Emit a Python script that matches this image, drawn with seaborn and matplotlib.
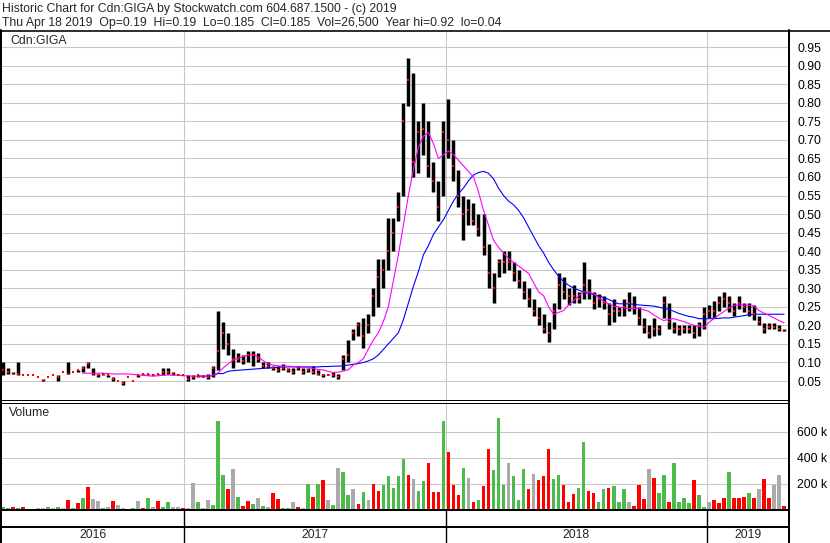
import numpy as np
import pandas as pd
import matplotlib
matplotlib.use("Agg")
import matplotlib.pyplot as plt
from matplotlib.lines import Line2D
import seaborn as sns

W, H = 830, 543

# weekly bars, Apr 2016 - Apr 2019
weeks = pd.date_range("2016-04-22", periods=157, freq="7D")

high = [
    0.10, 0.085, 0.075, 0.10, 0.065, 0.065, 0.065, 0.06, 0.055, 0.06,
    0.065, 0.065, 0.075, 0.10, 0.075, 0.08, 0.09, 0.10, 0.085, 0.07,
    0.07, 0.065, 0.06, 0.05, 0.05, 0.06, 0.05, 0.065, 0.07, 0.07,
    0.07, 0.07, 0.085, 0.085, 0.075, 0.07, 0.065, 0.065, 0.065, 0.065,
    0.065, 0.07, 0.09, 0.24, 0.21, 0.18, 0.135, 0.125, 0.12, 0.13,
    0.13, 0.125, 0.10, 0.10, 0.09, 0.09, 0.095, 0.085, 0.085, 0.09,
    0.085, 0.085, 0.09, 0.08, 0.07, 0.07, 0.075, 0.07, 0.12, 0.16,
    0.19, 0.21, 0.22, 0.23, 0.30, 0.38, 0.38, 0.49, 0.49, 0.56,
    0.80, 0.92, 0.88, 0.75, 0.80, 0.75, 0.64, 0.59, 0.75, 0.81,
    0.70, 0.62, 0.55, 0.54, 0.53, 0.50, 0.50, 0.42, 0.34, 0.38,
    0.40, 0.40, 0.37, 0.35, 0.32, 0.30, 0.27, 0.25, 0.23, 0.21,
    0.26, 0.34, 0.33, 0.30, 0.31, 0.29, 0.37, 0.325, 0.29, 0.285,
    0.28, 0.26, 0.27, 0.25, 0.27, 0.29, 0.28, 0.25, 0.22, 0.20,
    0.22, 0.20, 0.28, 0.26, 0.21, 0.20, 0.20, 0.20, 0.20, 0.21,
    0.25, 0.255, 0.265, 0.28, 0.29, 0.28, 0.26, 0.28, 0.26, 0.26,
    0.255, 0.225, 0.205, 0.205, 0.205, 0.20, 0.19]

low = [
    0.065, 0.07, 0.07, 0.065, 0.065, 0.065, 0.065, 0.06, 0.05, 0.06,
    0.065, 0.05, 0.075, 0.07, 0.075, 0.075, 0.075, 0.085, 0.065, 0.06,
    0.065, 0.06, 0.05, 0.05, 0.04, 0.06, 0.05, 0.06, 0.065, 0.065,
    0.065, 0.065, 0.065, 0.07, 0.065, 0.065, 0.065, 0.05, 0.055, 0.06,
    0.06, 0.055, 0.06, 0.08, 0.135, 0.12, 0.085, 0.10, 0.095, 0.10,
    0.09, 0.10, 0.085, 0.085, 0.08, 0.075, 0.08, 0.075, 0.07, 0.08,
    0.07, 0.075, 0.07, 0.065, 0.06, 0.065, 0.06, 0.055, 0.08, 0.10,
    0.16, 0.17, 0.14, 0.18, 0.225, 0.25, 0.30, 0.35, 0.40, 0.48,
    0.55, 0.79, 0.60, 0.61, 0.66, 0.60, 0.56, 0.48, 0.55, 0.65,
    0.59, 0.52, 0.43, 0.47, 0.47, 0.44, 0.39, 0.30, 0.26, 0.33,
    0.34, 0.35, 0.32, 0.30, 0.27, 0.25, 0.225, 0.20, 0.18, 0.155,
    0.19, 0.245, 0.27, 0.255, 0.26, 0.26, 0.27, 0.27, 0.245, 0.25,
    0.245, 0.20, 0.21, 0.225, 0.225, 0.24, 0.23, 0.20, 0.18, 0.165,
    0.17, 0.175, 0.22, 0.19, 0.18, 0.175, 0.18, 0.18, 0.165, 0.17,
    0.19, 0.22, 0.22, 0.24, 0.25, 0.235, 0.225, 0.245, 0.235, 0.225,
    0.215, 0.20, 0.18, 0.19, 0.19, 0.185, 0.185]

close = [
    0.08, 0.075, 0.07, 0.07, 0.065, 0.065, 0.065, 0.06, 0.05, 0.06,
    0.065, 0.06, 0.075, 0.07, 0.075, 0.08, 0.085, 0.095, 0.07, 0.065,
    0.07, 0.065, 0.055, 0.05, 0.045, 0.06, 0.05, 0.065, 0.07, 0.07,
    0.065, 0.068, 0.075, 0.075, 0.07, 0.065, 0.065, 0.055, 0.06, 0.065,
    0.06, 0.06, 0.085, 0.13, 0.18, 0.15, 0.11, 0.11, 0.105, 0.12,
    0.12, 0.11, 0.09, 0.09, 0.085, 0.08, 0.085, 0.08, 0.075, 0.085,
    0.075, 0.08, 0.075, 0.07, 0.065, 0.065, 0.065, 0.06, 0.11, 0.12,
    0.18, 0.20, 0.17, 0.20, 0.28, 0.33, 0.35, 0.40, 0.45, 0.52,
    0.75, 0.86, 0.64, 0.72, 0.73, 0.63, 0.59, 0.52, 0.72, 0.70,
    0.63, 0.55, 0.50, 0.51, 0.48, 0.46, 0.41, 0.34, 0.30, 0.37,
    0.37, 0.37, 0.34, 0.32, 0.29, 0.27, 0.24, 0.22, 0.19, 0.18,
    0.24, 0.31, 0.29, 0.28, 0.28, 0.27, 0.31, 0.29, 0.26, 0.27,
    0.26, 0.23, 0.24, 0.24, 0.25, 0.26, 0.25, 0.22, 0.195, 0.18,
    0.19, 0.19, 0.26, 0.21, 0.19, 0.19, 0.19, 0.19, 0.18, 0.20,
    0.23, 0.24, 0.24, 0.26, 0.27, 0.26, 0.24, 0.26, 0.25, 0.24,
    0.23, 0.21, 0.19, 0.195, 0.195, 0.19, 0.185]

# short moving average (magenta)
ma_short = [np.nan] * 16 + [
    0.071, 0.071, 0.071, 0.071,
    0.071, 0.070, 0.069, 0.069, 0.069, 0.069, 0.068, 0.066, 0.066, 0.064,
    0.063, 0.064, 0.066, 0.066, 0.066, 0.066, 0.064, 0.064, 0.063, 0.063,
    0.063, 0.063, 0.066, 0.072, 0.085, 0.096, 0.106, 0.112, 0.116, 0.120,
    0.122, 0.115, 0.105, 0.096, 0.093, 0.091, 0.090, 0.090, 0.089, 0.088,
    0.087, 0.086, 0.084, 0.081, 0.080, 0.076, 0.073, 0.074, 0.077, 0.080,
    0.093, 0.100, 0.110, 0.136, 0.160, 0.180, 0.210, 0.250, 0.320, 0.390,
    0.470, 0.550, 0.620, 0.680, 0.710, 0.720, 0.690, 0.650, 0.660, 0.670,
    0.660, 0.645, 0.630, 0.615, 0.600, 0.560, 0.510, 0.470, 0.430, 0.410,
    0.395, 0.380, 0.370, 0.360, 0.350, 0.340, 0.315, 0.290, 0.280, 0.250,
    0.230, 0.235, 0.240, 0.255, 0.267, 0.280, 0.290, 0.290, 0.285, 0.275,
    0.265, 0.258, 0.252, 0.250, 0.247, 0.245, 0.245, 0.246, 0.242, 0.238,
    0.228, 0.220, 0.213, 0.216, 0.218, 0.214, 0.210, 0.205, 0.200, 0.197,
    0.195, 0.208, 0.218, 0.228, 0.237, 0.247, 0.254, 0.255, 0.255, 0.254,
    0.252, 0.240, 0.233, 0.227, 0.220, 0.213, 0.207]

# long moving average (blue)
ma_long = [np.nan] * 39 + [
    0.063,
    0.063, 0.063, 0.065, 0.070, 0.070, 0.076, 0.078, 0.079, 0.080, 0.081,
    0.082, 0.083, 0.084, 0.085, 0.086, 0.087, 0.088, 0.088, 0.088, 0.088,
    0.088, 0.088, 0.088, 0.088, 0.089, 0.089, 0.090, 0.090, 0.091, 0.093,
    0.095, 0.097, 0.100, 0.104, 0.110, 0.120, 0.135, 0.150, 0.165, 0.180,
    0.215, 0.260, 0.305, 0.345, 0.390, 0.415, 0.445, 0.465, 0.485, 0.510,
    0.535, 0.555, 0.570, 0.590, 0.605, 0.612, 0.615, 0.610, 0.595, 0.570,
    0.550, 0.535, 0.525, 0.510, 0.490, 0.465, 0.440, 0.415, 0.395, 0.370,
    0.350, 0.332, 0.318, 0.308, 0.300, 0.295, 0.290, 0.287, 0.283, 0.279,
    0.275, 0.270, 0.263, 0.258, 0.258, 0.258, 0.257, 0.255, 0.254, 0.253,
    0.252, 0.249, 0.246, 0.243, 0.238, 0.232, 0.228, 0.224, 0.222, 0.218,
    0.218, 0.218, 0.218, 0.219, 0.220, 0.220, 0.222, 0.224, 0.226, 0.229,
    0.230, 0.230, 0.230, 0.230, 0.230, 0.230, 0.230]

# volume in thousands
volume_k = [
    18, 10, 23, 10, 18, 5, 5, 10, 10, 18,
    8, 23, 10, 70, 10, 50, 87, 172, 80, 64,
    10, 20, 64, 33, 8, 5, 10, 64, 15, 87,
    20, 64, 20, 56, 20, 18, 8, 10, 203, 56,
    15, 70, 36, 677, 262, 160, 313, 95, 30, 64,
    40, 92, 25, 20, 126, 77, 10, 8, 56, 18,
    8, 197, 100, 197, 230, 70, 36, 323, 292, 115,
    154, 40, 131, 70, 197, 146, 192, 254, 167, 254,
    392, 269, 238, 146, 223, 354, 131, 131, 677, 446,
    185, 115, 323, 244, 60, 70, 177, 467, 305, 705,
    192, 359, 254, 70, 313, 154, 274, 230, 254, 469,
    236, 269, 185, 60, 120, 167, 523, 146, 126, 60,
    154, 169, 182, 60, 154, 60, 30, 185, 80, 313,
    246, 126, 269, 60, 354, 60, 90, 50, 230, 108,
    20, 60, 70, 50, 90, 287, 90, 90, 95, 126,
    90, 159, 238, 90, 185, 269, 30]

# g = up day, r = down day, n = unchanged
volume_side = """
g g r g r n n n n g
n g n r g r g r n n
g n r n n g g n r g
n r g g n n r n n g
n n g g g r n g r r
g n g n r r g g n r
n g r g r n g n g g
n r g n r r g g g g
g r n g g r r r g r
r r g n r g r r g g
g n g g g r n r r r
g g r r r g g r r g
g r g g g n r r r n
r g g r g g g g r g
g n r r r g r r r g
r n r r n n r
""".split()

price_ticks = [0.05, 0.10, 0.15, 0.20, 0.25, 0.30, 0.35, 0.40, 0.45, 0.50,
               0.55, 0.60, 0.65, 0.70, 0.75, 0.80, 0.85, 0.90, 0.95]
volume_ticks = [200000, 400000, 600000]
volume_labels = ["200 k", "400 k", "600 k"]
years = ["2016", "2017", "2018", "2019"]

side_colors = {"g": "#4cbb4c", "r": "#ff0000", "n": "#aaaaaa"}
grid_col = "#c8c8c8"

sns.set_style("white")
plt.rcParams["font.family"] = ["Liberation Sans", "DejaVu Sans"]
plt.rcParams["font.size"] = 8.8

fig = plt.figure(figsize=(W / 100, H / 100), dpi=100)


def px_axes(x0, y0, x1, y1):
    ax = fig.add_axes([x0 / W, 1 - y1 / H, (x1 - x0) / W, (y1 - y0) / H])
    ax.patch.set_alpha(0)
    for s in ax.spines.values():
        s.set_visible(False)
    return ax


def px_line(xs, ys, lw=1.0):
    fig.add_artist(Line2D([x / W for x in xs], [1 - y / H for y in ys],
                          transform=fig.transFigure, color="black", lw=lw * 0.72))


x_start = pd.Timestamp("2016-04-21")
x_end = pd.Timestamp("2019-04-26")
year_starts = [pd.Timestamp(f"{y}-01-01") for y in years[1:]]

# price panel
ax_p = px_axes(2, 31, 789, 400)
ax_p.set_xlim(x_start, x_end)
ax_p.set_ylim(-0.0012, 0.9934)
ax_p.set_xticks(year_starts)
ax_p.set_xticklabels([])
ax_p.yaxis.tick_right()
ax_p.set_yticks(price_ticks)
ax_p.set_yticklabels([f"{t:.2f}" for t in price_ticks])
ax_p.tick_params(length=0, pad=6, labelcolor="black")
ax_p.grid(True, color=grid_col, lw=0.75)

ax_p.vlines(weeks, low, high, color="black", lw=2.5)
ax_p.scatter(weeks, close, marker="s", s=3, color="red", lw=0, zorder=3)

ma = pd.DataFrame({"date": weeks, "short": ma_short, "long": ma_long})
sns.lineplot(data=ma, x="date", y="long", ax=ax_p, color="#0000ff", lw=0.8, legend=False)
sns.lineplot(data=ma, x="date", y="short", ax=ax_p, color="#ff00ff", lw=0.8, legend=False)
ax_p.set_xlabel("")
ax_p.set_ylabel("")
ax_p.text(8 / 787, 1 - 10 / 369, "Cdn:GIGA", transform=ax_p.transAxes,
          va="center", ha="left")

# volume panel
ax_v = px_axes(2, 402, 789, 510)
ax_v.set_xlim(x_start, x_end)
ax_v.set_ylim(-3800, 827000)
ax_v.set_xticks(year_starts)
ax_v.set_xticklabels([])
ax_v.yaxis.tick_right()
ax_v.set_yticks(volume_ticks)
ax_v.set_yticklabels(volume_labels)
ax_v.tick_params(length=0, pad=6, labelcolor="black")
ax_v.grid(True, color=grid_col, lw=0.75)
ax_v.bar(weeks, [v * 1000 for v in volume_k], width=5,
         color=[side_colors[s] for s in volume_side], lw=0, zorder=3)
ax_v.text(7 / 787, 1 - 11 / 108, "Volume", transform=ax_v.transAxes,
          va="center", ha="left")

# date band
ax_d = px_axes(2, 510, 789, 543)
ax_d.set_xlim(x_start, x_end)
ax_d.set_ylim(0, 1)
ax_d.set_xticks([])
ax_d.set_yticks([])
for d in year_starts:
    ax_d.axvline(d, color="black", lw=1.0)
bounds = [x_start] + year_starts + [x_end]
for i, y in enumerate(years):
    mid = bounds[i] + (bounds[i + 1] - bounds[i]) / 2
    ax_d.text(mid, 0.25, y, ha="center", va="center")

# frame
px_line([0, 830], [30.5, 30.5], 1.6)
px_line([1, 1], [30, 543], 2)
px_line([789, 789], [30, 543], 2)
px_line([0, 789], [400, 400], 1)
px_line([0, 789], [402.5, 402.5], 1)
px_line([0, 789], [510, 510], 2)
px_line([0, 789], [527, 527], 2)

fig.text(2 / W, 1 - 9 / H,
         "Historic Chart for Cdn:GIGA by Stockwatch.com 604.687.1500 - (c) 2019",
         va="center", ha="left")
fig.text(2 / W, 1 - 23 / H,
         "Thu Apr 18 2019  Op=0.19  Hi=0.19  Lo=0.185  Cl=0.185  Vol=26,500  Year hi=0.92  lo=0.04",
         va="center", ha="left")

fig.savefig("out.png", dpi=100)
